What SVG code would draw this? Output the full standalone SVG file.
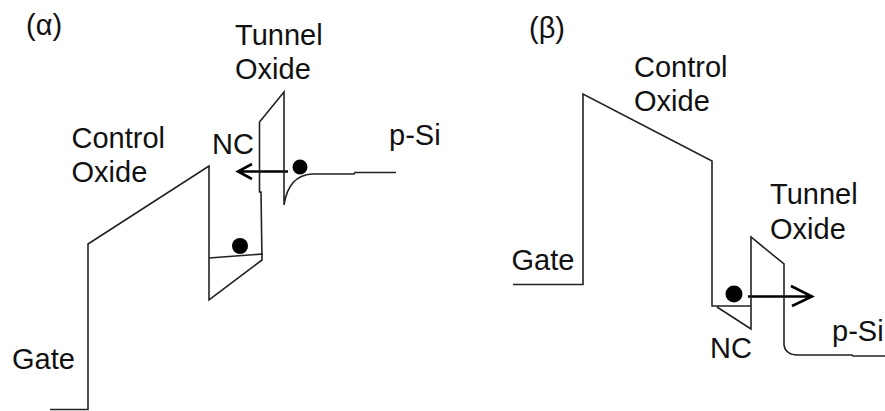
<svg xmlns="http://www.w3.org/2000/svg" width="885" height="411" viewBox="0 0 885 411">
<style>
.l{fill:none;stroke:#222;stroke-width:1.6}
.a{fill:none;stroke:#000;stroke-width:2.6}
.t{font-family:"Liberation Sans",Arial,sans-serif;font-size:29px;fill:#111}
.d{fill:#000}
</style>
<rect width="885" height="411" fill="#fff"/>
<g id="connectors">
<path class="a" d="M288 171.500H238M252 164L238 171.500L252 179"/>
<path class="a" d="M748 296.500H812M791 286L812 296.500L792 306"/>
</g>
<g id="alpha-band">
<path class="l" d="M50 409.500H88V244L209 166V300L262 260L261 192H259.500V122L284 92V205C287 185 296 175 312 174L354 174L355 172.500H396"/>
<path class="l" d="M209 258L263 254"/>
</g>
<g id="beta-band">
<path class="l" d="M513 284.500H583V94L712 161V306H751M717 307L751 329V237L784 264V345C785 352 790 355 798 355H852L853 356H885"/>
</g>
<g id="alpha-electrons">
<circle class="d" cx="300" cy="167" r="7.500"/>
<circle class="d" cx="240" cy="246" r="8"/>
</g>
<g id="beta-electron">
<circle class="d" cx="734" cy="294" r="8.500"/>
</g>
<g id="labels">
<text class="t" x="26" y="35">(α)</text>
<text class="t" x="529" y="38">(β)</text>
<text class="t" x="235" y="45">Tunnel</text>
<text class="t" x="235" y="79">Oxide</text>
<text class="t" x="71.500" y="148">Control</text>
<text class="t" x="71.500" y="182">Oxide</text>
<text class="t" x="212" y="154">NC</text>
<text class="t" x="389" y="145">p-Si</text>
<text class="t" x="12" y="369">Gate</text>
<text class="t" x="634" y="77">Control</text>
<text class="t" x="634" y="111">Oxide</text>
<text class="t" x="770" y="204">Tunnel</text>
<text class="t" x="770" y="239">Oxide</text>
<text class="t" x="511.500" y="270">Gate</text>
<text class="t" x="710" y="358">NC</text>
<text class="t" x="832" y="341">p-Si</text>
</g>
</svg>
